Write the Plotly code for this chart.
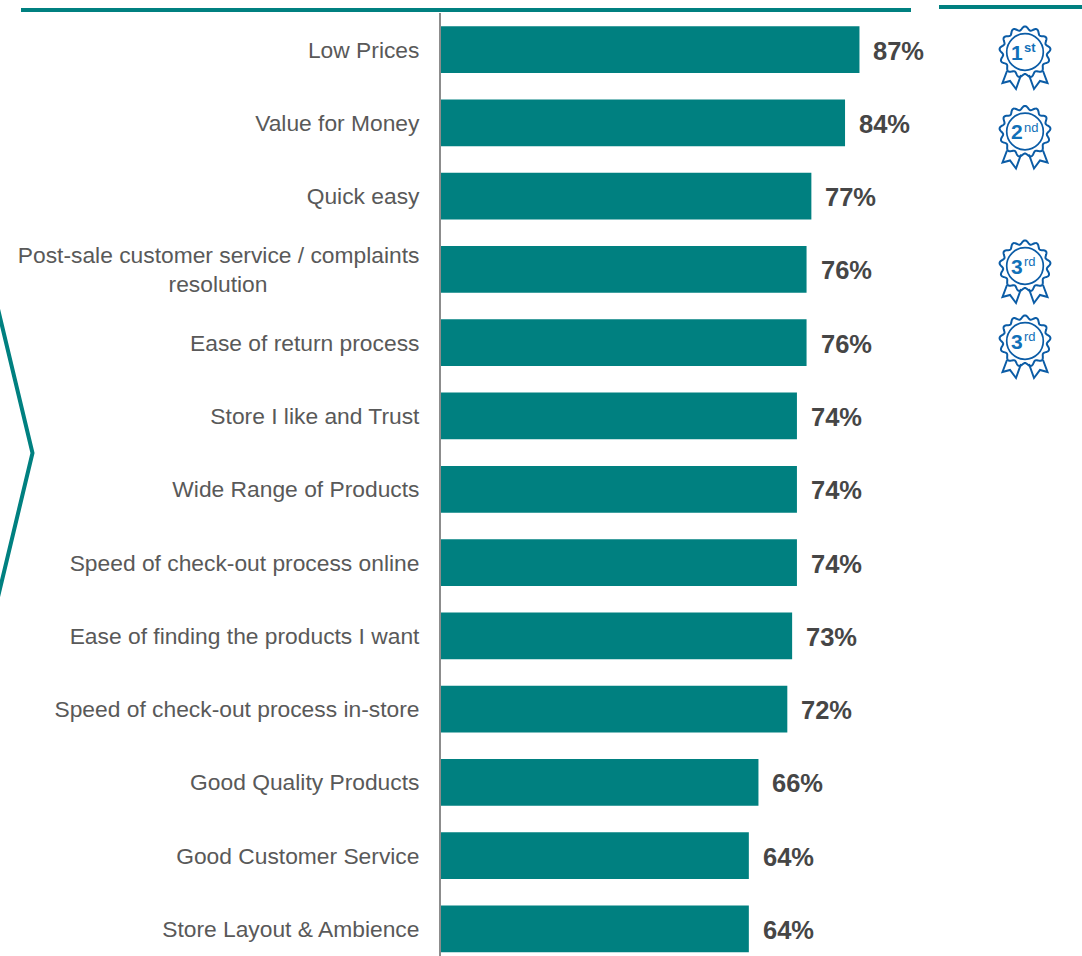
import numpy as np
import plotly.graph_objects as go

WIDTH, HEIGHT = 1082, 956
TEAL = "#008080"
MEDAL_LINE = "#0B5CA6"
MEDAL_TEXT = "#1170B8"

categories = [
    "Low Prices",
    "Value for Money",
    "Quick easy",
    "Post-sale customer service / complaints<br>resolution" + "\u00a0" * 24,
    "Ease of return process",
    "Store I like and Trust",
    "Wide Range of Products",
    "Speed of check-out process online",
    "Ease of finding the products I want",
    "Speed of check-out process in-store",
    "Good Quality Products",
    "Good Customer Service",
    "Store Layout & Ambience",
]
values = [87, 84, 77, 76, 76, 74, 74, 74, 73, 72, 66, 64, 64]

# Rank badges: number, suffix, whether the suffix is bold, badge centre in pixels
badges = [
    ("1", "st", True, 52.0),
    ("2", "nd", False, 131.5),
    ("3", "rd", False, 266.0),
    ("3", "rd", False, 341.0),
]
BADGE_X = 1025.0


def px(x):
    return x / WIDTH


def py(y):
    return 1 - y / HEIGHT


def path_from(points, closed=False):
    d = "M" + " L".join(f"{px(x):.5f},{py(y):.5f}" for x, y in points)
    return d + (" Z" if closed else "")


shapes = [
    # Header rules
    dict(type="rect", xref="paper", yref="paper", x0=px(21), x1=px(911), y0=py(8), y1=py(12),
         fillcolor=TEAL, line_width=0),
    dict(type="rect", xref="paper", yref="paper", x0=px(939), x1=px(1082), y0=py(5), y1=py(9),
         fillcolor=TEAL, line_width=0),
    # Chevron on the left edge
    dict(type="path", xref="paper", yref="paper",
         path=path_from([(-2, 309), (32.5, 453), (-2, 597)]),
         line=dict(color=TEAL, width=4), layer="above"),
]

annotations = []
for number, suffix, bold_suffix, cy in badges:
    # Scalloped rosette outline
    theta = np.linspace(0, 2 * np.pi, 281)
    radius = 23.8 + 1.8 * np.cos(13 * theta)
    rosette = list(zip(BADGE_X + radius * np.sin(theta), cy - radius * np.cos(theta)))
    shapes.append(dict(type="path", xref="paper", yref="paper", path=path_from(rosette, True),
                       line=dict(color=MEDAL_LINE, width=2), fillcolor="white"))
    # Inner ring
    shapes.append(dict(type="circle", xref="paper", yref="paper",
                       x0=px(BADGE_X - 18.3), x1=px(BADGE_X + 18.3),
                       y0=py(cy - 18.3), y1=py(cy + 18.3),
                       line=dict(color=MEDAL_LINE, width=1.7)))
    # Two ribbon tails
    for side in (-1, 1):
        tail = [(18, 19), (22.5, 31), (15, 29), (9, 37), (4, 23)]
        shapes.append(dict(type="path", xref="paper", yref="paper",
                           path=path_from([(BADGE_X + side * dx, cy + dy) for dx, dy in tail]),
                           line=dict(color=MEDAL_LINE, width=2)))
    annotations.append(dict(xref="paper", yref="paper", x=px(BADGE_X), y=py(cy + 0.5),
                            text=f"<b>{number}</b>", showarrow=False, xanchor="right", yanchor="middle",
                            font=dict(family="Liberation Sans", size=21, color=MEDAL_TEXT)))
    suffix_text = f"<b>{suffix}</b>" if bold_suffix else suffix
    annotations.append(dict(xref="paper", yref="paper", x=px(BADGE_X - 3), y=py(cy - 4.5),
                            text=suffix_text, showarrow=False, xanchor="left", yanchor="middle",
                            font=dict(family="Liberation Sans", size=13, color=MEDAL_TEXT)))

# Value labels follow the bar ends
for cat, val in zip(categories, values):
    annotations.append(dict(xref="x", yref="y", x=val, y=cat, text=f"<b>{val}%</b>",
                            showarrow=False, xanchor="left", yanchor="middle", xshift=12, yshift=-1,
                            font=dict(family="Liberation Sans", size=25.5, color="#464646")))

fig = go.Figure(go.Bar(
    x=values,
    y=categories,
    orientation="h",
    marker=dict(color=TEAL, line_width=0),
    hoverinfo="skip",
))

fig.update_layout(
    width=WIDTH,
    height=HEIGHT,
    margin=dict(l=0, r=0, t=0, b=0),
    paper_bgcolor="white",
    plot_bgcolor="white",
    showlegend=False,
    bargap=0.362,
    shapes=shapes,
    annotations=annotations,
    xaxis=dict(domain=[px(441), 1], range=[0, 641 / 4.81], visible=False, fixedrange=True),
    yaxis=dict(
        domain=[0, py(13)],
        range=[12.37, -0.5],
        type="category",
        categoryorder="array",
        categoryarray=categories,
        showgrid=False,
        zeroline=False,
        showline=True,
        linecolor="#8C8C8C",
        linewidth=2,
        ticks="",
        ticklabelstandoff=15,
        automargin=False,
        fixedrange=True,
        tickfont=dict(family="Liberation Sans", size=22.8, color="#595959"),
    ),
)

fig.write_html("out.html", config=dict(displayModeBar=False))
